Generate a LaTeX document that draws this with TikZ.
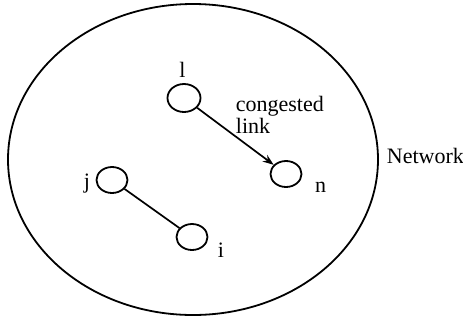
\documentclass[tikz,border=0pt]{standalone}
\usepackage{fontspec}
\setmainfont{Liberation Serif}
\usetikzlibrary{arrows.meta,positioning,shapes.geometric}

\begin{document}
\begin{tikzpicture}[x=1pt, y=-1pt, >={Stealth[length=11pt, width=8pt]}, line width=1.8pt,
  host/.style={draw, ellipse, minimum width=31pt, minimum height=26pt, inner sep=0pt},
  lbl/.style={font=\fontsize{22}{22}\selectfont, inner sep=0pt, anchor=base}]
\useasboundingbox (0,0) rectangle (463,322);

  % Network boundary
\node[draw, ellipse, minimum width=370pt, minimum height=311pt, inner sep=0pt] (net) at (193,159.5) {};
\node[lbl, anchor=base west] (netlbl) at (386,163) {Network};

  % Hosts
\node[host, minimum width=33pt, minimum height=28pt] (l) at (184,98) {}; \node[host] (n) at (286,174) {}; \node[host] (j) at (112,180) {}; \node[host] (i) at (192,237) {};
\node[lbl] (ltxt) at (182.5,77) {l}; \node[lbl] (ntxt) at (320.5,192) {n}; \node[lbl] (jtxt) at (87,188) {j}; \node[lbl] (itxt) at (221,257) {i};
\node[lbl, anchor=base west] (cong) at (235,111) {congested}; \node[lbl, anchor=base west] (link) at (235,133) {link};

  % Links
\draw[->, line width=1.7pt] (l) -- (n); \draw[line width=1.7pt] (j) -- (i);

\end{tikzpicture}
\end{document}
